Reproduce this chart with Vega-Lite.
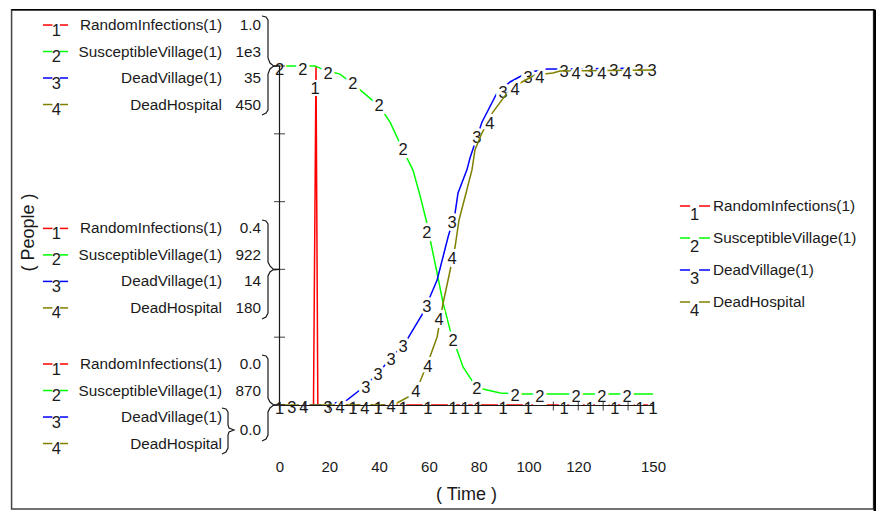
{
  "$schema": "https://vega.github.io/schema/vega-lite/v6.json",
  "width": 876,
  "height": 511,
  "padding": 0,
  "autosize": "none",
  "background": "white",
  "config": {"view": {"stroke": null}, "text": {"font": "Liberation Sans", "color": "#1a1a1a"}},
  "datasets": {
    "curves": [
      {"series": 1, "t": 0, "value": 0}, {"series": 1, "t": 13.65, "value": 0}, {"series": 1, "t": 14.66, "value": 1}, {"series": 1, "t": 15.4, "value": 0}, {"series": 1, "t": 150, "value": 0},
      {"series": 2, "t": 0, "value": 1000}, {"series": 2, "t": 14.3, "value": 1000}, {"series": 2, "t": 16.3, "value": 999.2}, {"series": 2, "t": 19.5, "value": 998.1}, {"series": 2, "t": 24.3, "value": 996.9}, {"series": 2, "t": 29.5, "value": 993.1}, {"series": 2, "t": 34.3, "value": 989.3}, {"series": 2, "t": 40, "value": 984.7}, {"series": 2, "t": 44.4, "value": 978.5}, {"series": 2, "t": 49.6, "value": 967.8}, {"series": 2, "t": 53.6, "value": 960.1}, {"series": 2, "t": 56.4, "value": 950.5}, {"series": 2, "t": 59.2, "value": 939.8}, {"series": 2, "t": 60.8, "value": 932.1}, {"series": 2, "t": 63.3, "value": 920.6}, {"series": 2, "t": 65.7, "value": 909.1}, {"series": 2, "t": 68.5, "value": 898.8}, {"series": 2, "t": 71.3, "value": 891.1}, {"series": 2, "t": 73.7, "value": 884.6}, {"series": 2, "t": 77.7, "value": 878.8}, {"series": 2, "t": 81.7, "value": 876.1}, {"series": 2, "t": 88.6, "value": 874.6}, {"series": 2, "t": 96.6, "value": 874.2}, {"series": 2, "t": 150, "value": 874.2},
      {"series": 3, "t": 0, "value": 0}, {"series": 3, "t": 19.9, "value": 0}, {"series": 3, "t": 22.3, "value": 0.2}, {"series": 3, "t": 27.1, "value": 0.5}, {"series": 3, "t": 32.3, "value": 1.55}, {"series": 3, "t": 34.7, "value": 2.06}, {"series": 3, "t": 39.6, "value": 3.3}, {"series": 3, "t": 44.8, "value": 4.85}, {"series": 3, "t": 49.6, "value": 6.2}, {"series": 3, "t": 51.6, "value": 6.9}, {"series": 3, "t": 57.2, "value": 9.3}, {"series": 3, "t": 60.4, "value": 11.15}, {"series": 3, "t": 63.3, "value": 12.9}, {"series": 3, "t": 67.7, "value": 17.35}, {"series": 3, "t": 70.5, "value": 19.8}, {"series": 3, "t": 71.7, "value": 21.9}, {"series": 3, "t": 75.3, "value": 24.3}, {"series": 3, "t": 76.5, "value": 25.5}, {"series": 3, "t": 81.3, "value": 29.2}, {"series": 3, "t": 87.3, "value": 32.2}, {"series": 3, "t": 92.6, "value": 33.35}, {"series": 3, "t": 99.4, "value": 34.3}, {"series": 3, "t": 107.4, "value": 34.7}, {"series": 3, "t": 112.7, "value": 34.7}, {"series": 3, "t": 150, "value": 34.8},
      {"series": 4, "t": 0, "value": 0}, {"series": 4, "t": 45.2, "value": 0}, {"series": 4, "t": 47.2, "value": 2.7}, {"series": 4, "t": 53.2, "value": 13.3}, {"series": 4, "t": 56.4, "value": 30.5}, {"series": 4, "t": 60.4, "value": 63.7}, {"series": 4, "t": 63.3, "value": 90.3}, {"series": 4, "t": 65.7, "value": 135.4}, {"series": 4, "t": 67.7, "value": 165.9}, {"series": 4, "t": 70.5, "value": 209.7}, {"series": 4, "t": 72.1, "value": 245.6}, {"series": 4, "t": 74.5, "value": 276.1}, {"series": 4, "t": 77.3, "value": 312}, {"series": 4, "t": 78.5, "value": 338.5}, {"series": 4, "t": 81.3, "value": 361}, {"series": 4, "t": 85.7, "value": 388.9}, {"series": 4, "t": 91.4, "value": 414.2}, {"series": 4, "t": 97.4, "value": 428.8}, {"series": 4, "t": 102.6, "value": 438}, {"series": 4, "t": 109.8, "value": 440.7}, {"series": 4, "t": 112.7, "value": 443.4}, {"series": 4, "t": 150, "value": 444.7}
    ],
    "labels": [
      {"series": 1, "t": 0, "value": -0.012}, {"series": 1, "t": 14.3, "value": 0.932}, {"series": 1, "t": 19.5, "value": -0.012}, {"series": 1, "t": 29.5, "value": -0.012}, {"series": 1, "t": 39.6, "value": -0.012}, {"series": 1, "t": 49.6, "value": -0.012}, {"series": 1, "t": 59.6, "value": -0.012}, {"series": 1, "t": 69.7, "value": -0.012}, {"series": 1, "t": 74.5, "value": -0.012}, {"series": 1, "t": 79.7, "value": -0.012}, {"series": 1, "t": 89.8, "value": -0.012}, {"series": 1, "t": 99.8, "value": -0.012}, {"series": 1, "t": 114.3, "value": -0.012}, {"series": 1, "t": 124.7, "value": -0.012}, {"series": 1, "t": 134.7, "value": -0.012}, {"series": 1, "t": 144.8, "value": -0.012}, {"series": 1, "t": 150, "value": -0.012},
      {"series": 2, "t": 0, "value": 998.5}, {"series": 2, "t": 9.4, "value": 998.5}, {"series": 2, "t": 19.5, "value": 996.9}, {"series": 2, "t": 29.5, "value": 993.1}, {"series": 2, "t": 40, "value": 984.7}, {"series": 2, "t": 49.6, "value": 967.8}, {"series": 2, "t": 59.2, "value": 936}, {"series": 2, "t": 69.7, "value": 894.5}, {"series": 2, "t": 79.3, "value": 876.1}, {"series": 2, "t": 94.6, "value": 873.5}, {"series": 2, "t": 104.6, "value": 873.1}, {"series": 2, "t": 119.1, "value": 873.1}, {"series": 2, "t": 129.5, "value": 873.1}, {"series": 2, "t": 139.6, "value": 873.1},
      {"series": 3, "t": 5, "value": -0.3}, {"series": 3, "t": 19.5, "value": -0.3}, {"series": 3, "t": 34.7, "value": 1.75}, {"series": 3, "t": 39.6, "value": 3.1}, {"series": 3, "t": 44.8, "value": 4.65}, {"series": 3, "t": 49.6, "value": 6}, {"series": 3, "t": 59.2, "value": 10.1}, {"series": 3, "t": 69.3, "value": 18.8}, {"series": 3, "t": 79.3, "value": 27.6}, {"series": 3, "t": 89.8, "value": 32.2}, {"series": 3, "t": 99.8, "value": 33.8}, {"series": 3, "t": 114.3, "value": 34.4}, {"series": 3, "t": 124.3, "value": 34.4}, {"series": 3, "t": 134.3, "value": 34.5}, {"series": 3, "t": 144.4, "value": 34.5}, {"series": 3, "t": 149.6, "value": 34.5},
      {"series": 4, "t": 9.8, "value": -4}, {"series": 4, "t": 24.3, "value": -4}, {"series": 4, "t": 34.3, "value": -5.3}, {"series": 4, "t": 44.8, "value": -2.7}, {"series": 4, "t": 54.8, "value": 17.3}, {"series": 4, "t": 59.6, "value": 50.4}, {"series": 4, "t": 64.1, "value": 112.8}, {"series": 4, "t": 69.3, "value": 193.8}, {"series": 4, "t": 84.5, "value": 373}, {"series": 4, "t": 94.6, "value": 418.1}, {"series": 4, "t": 104.6, "value": 434.1}, {"series": 4, "t": 119.1, "value": 439.4}, {"series": 4, "t": 129.5, "value": 439.4}, {"series": 4, "t": 139.6, "value": 439.4}
    ],
    "legend": [
      {"level": 1, "series": 1, "name": "RandomInfections(1)"}, {"level": 1, "series": 2, "name": "SusceptibleVillage(1)"}, {"level": 1, "series": 3, "name": "DeadVillage(1)"}, {"level": 1, "series": 4, "name": "DeadHospital"},
      {"level": 0.4, "series": 1, "name": "RandomInfections(1)"}, {"level": 0.4, "series": 2, "name": "SusceptibleVillage(1)"}, {"level": 0.4, "series": 3, "name": "DeadVillage(1)"}, {"level": 0.4, "series": 4, "name": "DeadHospital"},
      {"level": 0, "series": 1, "name": "RandomInfections(1)"}, {"level": 0, "series": 2, "name": "SusceptibleVillage(1)"}, {"level": 0, "series": 3, "name": "DeadVillage(1)"}, {"level": 0, "series": 4, "name": "DeadHospital"}
    ],
    "readings": [
      {"level": 1, "series": 1, "reading": "1.0"}, {"level": 1, "series": 2, "reading": "1e3"}, {"level": 1, "series": 3, "reading": "35"}, {"level": 1, "series": 4, "reading": "450"},
      {"level": 0.4, "series": 1, "reading": "0.4"}, {"level": 0.4, "series": 2, "reading": "922"}, {"level": 0.4, "series": 3, "reading": "14"}, {"level": 0.4, "series": 4, "reading": "180"},
      {"level": 0, "series": 1, "reading": "0.0"}, {"level": 0, "series": 2, "reading": "870"}, {"level": 0, "series": 3.5, "reading": "0.0"}
    ],
    "key": [
      {"series": 1, "name": "RandomInfections(1)"}, {"series": 2, "name": "SusceptibleVillage(1)"}, {"series": 3, "name": "DeadVillage(1)"}, {"series": 4, "name": "DeadHospital"}
    ],
    "braces": [
      {"brace": "a", "k": 1, "t": -7.03, "level": 1.1475}, {"brace": "a", "k": 2, "t": -5.42, "level": 1.1445}, {"brace": "a", "k": 3, "t": -4.62, "level": 1.1357}, {"brace": "a", "k": 4, "t": -4.62, "level": 1.0236}, {"brace": "a", "k": 5, "t": -3.82, "level": 1.0088}, {"brace": "a", "k": 6, "t": -2.61, "level": 1.0015}, {"brace": "a", "k": 7, "t": 0.2, "level": 1}, {"brace": "a", "k": 8, "t": -2.61, "level": 0.9985}, {"brace": "a", "k": 9, "t": -3.82, "level": 0.9912}, {"brace": "a", "k": 10, "t": -4.62, "level": 0.9764}, {"brace": "a", "k": 11, "t": -4.62, "level": 0.8702}, {"brace": "a", "k": 12, "t": -5.42, "level": 0.8614}, {"brace": "a", "k": 13, "t": -7.03, "level": 0.8555},
      {"brace": "b", "k": 1, "t": -7.03, "level": 0.5457}, {"brace": "b", "k": 2, "t": -5.42, "level": 0.5428}, {"brace": "b", "k": 3, "t": -4.62, "level": 0.5339}, {"brace": "b", "k": 4, "t": -4.62, "level": 0.4218}, {"brace": "b", "k": 5, "t": -3.82, "level": 0.41}, {"brace": "b", "k": 6, "t": -2.61, "level": 0.4012}, {"brace": "b", "k": 7, "t": 0.2, "level": 0.4}, {"brace": "b", "k": 8, "t": -2.61, "level": 0.3988}, {"brace": "b", "k": 9, "t": -3.82, "level": 0.3923}, {"brace": "b", "k": 10, "t": -4.62, "level": 0.3805}, {"brace": "b", "k": 11, "t": -4.62, "level": 0.2714}, {"brace": "b", "k": 12, "t": -5.42, "level": 0.2596}, {"brace": "b", "k": 13, "t": -7.03, "level": 0.2537},
      {"brace": "c", "k": 1, "t": -7.03, "level": 0.1475}, {"brace": "c", "k": 2, "t": -5.42, "level": 0.1445}, {"brace": "c", "k": 3, "t": -4.62, "level": 0.1357}, {"brace": "c", "k": 4, "t": -4.62, "level": 0.0206}, {"brace": "c", "k": 5, "t": -3.82, "level": 0.0088}, {"brace": "c", "k": 6, "t": -2.61, "level": 0.0015}, {"brace": "c", "k": 7, "t": 0.2, "level": 0}, {"brace": "c", "k": 8, "t": -2.61, "level": -0.0015}, {"brace": "c", "k": 9, "t": -3.82, "level": -0.0088}, {"brace": "c", "k": 10, "t": -4.62, "level": -0.0206}, {"brace": "c", "k": 11, "t": -4.62, "level": -0.0885}, {"brace": "c", "k": 12, "t": -5.42, "level": -0.1003}, {"brace": "c", "k": 13, "t": -7.03, "level": -0.1062},
      {"brace": "d", "k": 1, "t": -23.09, "level": -0.0088}, {"brace": "d", "k": 2, "t": -21.49, "level": -0.0118}, {"brace": "d", "k": 3, "t": -20.68, "level": -0.0206}, {"brace": "d", "k": 4, "t": -20.68, "level": -0.059}, {"brace": "d", "k": 5, "t": -20.28, "level": -0.0678}, {"brace": "d", "k": 6, "t": -18.27, "level": -0.0737}, {"brace": "d", "k": 7, "t": -20.28, "level": -0.0796}, {"brace": "d", "k": 8, "t": -20.68, "level": -0.0885}, {"brace": "d", "k": 9, "t": -20.68, "level": -0.1268}, {"brace": "d", "k": 10, "t": -21.49, "level": -0.1386}, {"brace": "d", "k": 11, "t": -23.09, "level": -0.1445}
    ],
    "xticks": [{"t": 0}, {"t": 10}, {"t": 20}, {"t": 30}, {"t": 40}, {"t": 50}, {"t": 60}, {"t": 70}, {"t": 80}, {"t": 90}, {"t": 100}, {"t": 110}, {"t": 120}, {"t": 130}, {"t": 140}, {"t": 150}],
    "yticks": [{"level": 0}, {"level": 0.2}, {"level": 0.4}, {"level": 0.6}, {"level": 0.8}, {"level": 1}]
  },
  "layer": [
    {
      "data": {"name": "curves"},
      "transform": [{"filter": "datum.series == 1"}],
      "encoding": {
        "x": {
          "field": "t",
          "type": "quantitative",
          "scale": {"domain": [-112.25, 239.56], "nice": false, "zero": false},
          "axis": {
            "values": [0, 20, 40, 60, 80, 100, 120, 150],
            "domain": false,
            "ticks": false,
            "grid": false,
            "offset": -52,
            "labelPadding": 0,
            "labelFont": "Liberation Sans",
            "labelFontSize": 15,
            "labelColor": "#1a1a1a",
            "labelBaseline": "top",
            "title": "( Time )",
            "titleFont": "Liberation Sans",
            "titleFontSize": 18,
            "titleFontWeight": "normal",
            "titleColor": "#1a1a1a",
            "titleX": 466,
            "titleY": 26
          }
        },
        "y": {"field": "value", "type": "quantitative", "scale": {"domain": [-0.31268, 1.19469], "nice": false, "zero": false}, "axis": null}
      },
      "layer": [
        {"mark": {"type": "line", "color": "#ff0000", "strokeWidth": 1.5}},
        {
          "data": {"name": "labels"},
          "transform": [{"filter": "datum.series == 1"}],
          "layer": [
            {"mark": {"type": "text", "fontSize": 16.5, "stroke": "white", "strokeWidth": 4}, "encoding": {"text": {"field": "series"}}},
            {"mark": {"type": "text", "fontSize": 16.5}, "encoding": {"text": {"field": "series"}}}
          ]
        }
      ]
    },
    {
      "data": {"name": "curves"},
      "transform": [{"filter": "datum.series == 2"}],
      "encoding": {
        "x": {"field": "t", "type": "quantitative", "axis": null},
        "y": {"field": "value", "type": "quantitative", "scale": {"domain": [829.35, 1025.31], "nice": false, "zero": false}, "axis": null}
      },
      "layer": [
        {"mark": {"type": "line", "color": "#00ff00", "strokeWidth": 1.5}},
        {
          "data": {"name": "labels"},
          "transform": [{"filter": "datum.series == 2"}],
          "layer": [
            {"mark": {"type": "text", "fontSize": 16.5, "stroke": "white", "strokeWidth": 6}, "encoding": {"text": {"field": "series"}}},
            {"mark": {"type": "text", "fontSize": 16.5}, "encoding": {"text": {"field": "series"}}}
          ]
        }
      ]
    },
    {
      "data": {"name": "curves"},
      "transform": [{"filter": "datum.series == 3"}],
      "encoding": {
        "x": {"field": "t", "type": "quantitative", "axis": null},
        "y": {"field": "value", "type": "quantitative", "scale": {"domain": [-10.944, 41.814], "nice": false, "zero": false}, "axis": null}
      },
      "layer": [
        {"mark": {"type": "line", "color": "#0000ff", "strokeWidth": 1.5}},
        {
          "data": {"name": "labels"},
          "transform": [{"filter": "datum.series == 3"}],
          "layer": [
            {"mark": {"type": "text", "fontSize": 16.5, "stroke": "white", "strokeWidth": 6}, "encoding": {"text": {"field": "series"}}},
            {"mark": {"type": "text", "fontSize": 16.5}, "encoding": {"text": {"field": "series"}}}
          ]
        }
      ]
    },
    {
      "data": {"name": "curves"},
      "transform": [{"filter": "datum.series == 4"}],
      "encoding": {
        "x": {"field": "t", "type": "quantitative", "axis": null},
        "y": {"field": "value", "type": "quantitative", "scale": {"domain": [-140.71, 537.61], "nice": false, "zero": false}, "axis": null}
      },
      "layer": [
        {"mark": {"type": "line", "color": "#808000", "strokeWidth": 1.5}},
        {
          "data": {"name": "labels"},
          "transform": [{"filter": "datum.series == 4"}],
          "layer": [
            {"mark": {"type": "text", "fontSize": 16.5, "stroke": "white", "strokeWidth": 6}, "encoding": {"text": {"field": "series"}}},
            {"mark": {"type": "text", "fontSize": 16.5}, "encoding": {"text": {"field": "series"}}}
          ]
        }
      ]
    },
    {
      "resolve": {"axis": {"x": "independent", "y": "independent"}},
      "layer": [
        {
          "data": {"name": "braces"},
          "mark": {"type": "line", "color": "#1a1a1a", "strokeWidth": 1.2},
          "encoding": {
            "x": {"field": "t", "type": "quantitative", "axis": null},
            "y": {
              "field": "level",
              "type": "quantitative",
              "scale": {"domain": [-0.31268, 1.19469], "nice": false, "zero": false},
              "axis": {
                "domain": false,
                "ticks": false,
                "labels": false,
                "grid": false,
                "title": "( People )",
                "titleFont": "Liberation Sans",
                "titleFontSize": 18,
                "titleFontWeight": "normal",
                "titleColor": "#1a1a1a",
                "titleX": 37,
                "titleY": 232
              }
            },
            "detail": {"field": "brace"},
            "order": {"field": "k", "type": "quantitative"}
          }
        },
        {
          "data": {"values": [{"frame": 1}]},
          "mark": {"type": "rect", "fill": null, "stroke": "#444444", "strokeWidth": 1.5},
          "encoding": {
            "x": {"datum": -107.6, "axis": null},
            "x2": {"datum": 238.6},
            "y": {"datum": -0.307, "axis": null},
            "y2": {"datum": 1.166}
          }
        },
        {
          "data": {"values": [{"edge": "top"}]},
          "mark": {"type": "rule", "color": "black", "strokeWidth": 1.5},
          "encoding": {"x": {"datum": -107.6, "axis": null}, "x2": {"datum": 239}, "y": {"datum": 1.166, "axis": null}}
        },
        {
          "data": {"values": [{"edge": "right"}]},
          "mark": {"type": "rule", "color": "black", "strokeWidth": 2.6},
          "encoding": {"x": {"datum": 239.1, "axis": null}, "y": {"datum": -0.3127, "axis": null}, "y2": {"datum": 1.166}}
        },
        {
          "data": {"values": [{"axis": "y"}]},
          "mark": {"type": "rule", "color": "#1a1a1a", "strokeWidth": 1.2},
          "encoding": {"x": {"datum": 0, "axis": null}, "y": {"datum": 0, "axis": null}, "y2": {"datum": 1}}
        },
        {
          "data": {"values": [{"axis": "x"}]},
          "mark": {"type": "rule", "color": "#1a1a1a", "strokeWidth": 1.2},
          "encoding": {"x": {"datum": 0, "axis": null}, "x2": {"datum": 150}, "y": {"datum": -0.0015, "axis": null}}
        },
        {
          "data": {"name": "yticks"},
          "mark": {"type": "tick", "orient": "horizontal", "size": 11, "thickness": 1.2, "color": "#1a1a1a"},
          "encoding": {"x": {"datum": 0, "axis": null}, "y": {"field": "level", "type": "quantitative", "axis": null}}
        },
        {
          "data": {"name": "xticks"},
          "mark": {"type": "tick", "orient": "vertical", "size": 9, "thickness": 1.2, "color": "#1a1a1a"},
          "encoding": {"x": {"field": "t", "type": "quantitative", "axis": null}, "y": {"datum": -0.003, "axis": null}}
        },
        {
          "data": {"name": "legend"},
          "transform": [{"calculate": "datum.level + 0.1209 - (datum.series - 1) * 0.07817", "as": "row"}],
          "encoding": {"y": {"field": "row", "type": "quantitative", "axis": null}},
          "layer": [
            {
              "mark": {"type": "text", "align": "right", "fontSize": 15.3},
              "encoding": {"x": {"datum": -23.09, "axis": null}, "text": {"field": "name"}}
            },
            {
              "mark": {"type": "text", "fontSize": 16.5, "dy": 5.5},
              "encoding": {"x": {"datum": -89.6, "axis": null}, "text": {"field": "series"}}
            },
            {
              "mark": {"type": "rule", "strokeWidth": 1.5},
              "encoding": {
                "x": {"datum": -95, "axis": null},
                "x2": {"datum": -91.2},
                "color": {"field": "series", "type": "nominal", "scale": {"domain": [1, 2, 3, 4], "range": ["#ff0000", "#00ff00", "#0000ff", "#808000"]}, "legend": null}
              }
            },
            {
              "mark": {"type": "rule", "strokeWidth": 1.5},
              "encoding": {
                "x": {"datum": -88.2, "axis": null},
                "x2": {"datum": -84.9},
                "color": {"field": "series", "type": "nominal", "scale": {"domain": [1, 2, 3, 4], "range": ["#ff0000", "#00ff00", "#0000ff", "#808000"]}, "legend": null}
              }
            }
          ]
        },
        {
          "data": {"name": "readings"},
          "transform": [{"calculate": "datum.level + 0.1209 - (datum.series - 1) * 0.07817", "as": "row"}],
          "mark": {"type": "text", "align": "right", "fontSize": 15.3},
          "encoding": {
            "x": {"datum": -7.43, "axis": null},
            "y": {"field": "row", "type": "quantitative", "axis": null},
            "text": {"field": "reading"}
          }
        }
      ]
    },
    {
      "data": {"name": "key"},
      "encoding": {
        "y": {"datum": 0.5, "scale": {"domain": [-0.31268, 1.19469], "nice": false, "zero": false}, "axis": null},
        "yOffset": {"field": "series", "type": "quantitative", "scale": {"domain": [1, 4], "range": [-29.5, 66.5], "zero": false, "nice": false}}
      },
      "layer": [
        {
          "mark": {"type": "text", "align": "left", "fontSize": 15.3},
          "encoding": {"x": {"datum": 174.1, "axis": null}, "text": {"field": "name"}}
        },
        {
          "mark": {"type": "text", "fontSize": 16.5, "dy": 9},
          "encoding": {"x": {"datum": 166.7, "axis": null}, "text": {"field": "series"}}
        },
        {
          "mark": {"type": "rule", "strokeWidth": 1.5},
          "encoding": {
            "x": {"datum": 160.8, "axis": null},
            "x2": {"datum": 164.9},
            "color": {"field": "series", "type": "nominal", "scale": {"domain": [1, 2, 3, 4], "range": ["#ff0000", "#00ff00", "#0000ff", "#808000"]}, "legend": null}
          }
        },
        {
          "mark": {"type": "rule", "strokeWidth": 1.5},
          "encoding": {
            "x": {"datum": 168.5, "axis": null},
            "x2": {"datum": 172.9},
            "color": {"field": "series", "type": "nominal", "scale": {"domain": [1, 2, 3, 4], "range": ["#ff0000", "#00ff00", "#0000ff", "#808000"]}, "legend": null}
          }
        }
      ]
    }
  ],
  "resolve": {"scale": {"y": "independent", "yOffset": "independent"}, "axis": {"x": "independent", "y": "independent"}}
}
